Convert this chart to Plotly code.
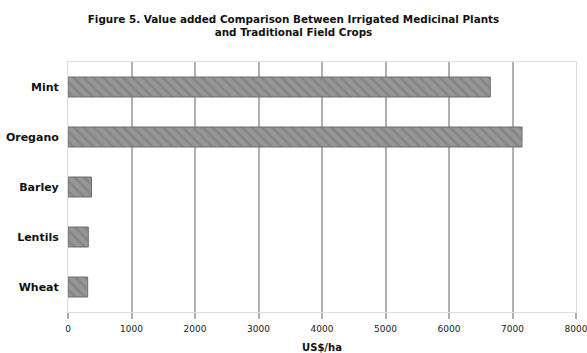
import plotly.graph_objects as go

# Value added per hectare (US$/ha)
crops = ["Mint", "Oregano", "Barley", "Lentils", "Wheat"]
value_added = [6650, 7150, 370, 320, 310]
x_ticks = [0, 1000, 2000, 3000, 4000, 5000, 6000, 7000, 8000]

FONT = "DejaVu Sans, Verdana, sans-serif"

fig = go.Figure(
    go.Bar(
        y=crops,
        x=value_added,
        orientation="h",
        marker=dict(
            color="#8c8c8c",
            line=dict(color="#6e6e6e", width=1),
            pattern=dict(shape="\\", fgcolor="#767676", bgcolor="#979797",
                         size=7, solidity=0.4),
        ),
        width=0.4,
    )
)

fig.update_layout(
    width=587,
    height=353,
    margin=dict(l=68, r=11, t=62, b=41),
    paper_bgcolor="white",
    plot_bgcolor="white",
    font=dict(family=FONT, color="#111"),
    title=dict(
        text="<b>Figure 5. Value added Comparison Between Irrigated Medicinal Plants<br>"
             "and Traditional Field Crops</b>",
        x=0.5, xanchor="center", y=0.935, yanchor="top",
        font=dict(size=10.4, color="#111", family=FONT),
    ),
    showlegend=False,
    bargap=0.6,
)

fig.update_xaxes(
    range=[0, 8000],
    tickvals=x_ticks,
    ticktext=[str(v) for v in x_ticks],
    tickfont=dict(size=9, color="#222", family=FONT),
    showgrid=True,
    gridcolor="#b0b0b0",
    gridwidth=1.5,
    zeroline=False,
    ticks="outside",
    ticklen=6,
    tickcolor="#b0b0b0",
    tickwidth=1.5,
    ticklabelstandoff=2,
    ticklabeloverflow="allow",
    showline=True,
    linecolor="#dedede",
    mirror=True,
    automargin=False,
    title=dict(text="<b>US$/ha</b>", font=dict(size=10, color="#111", family=FONT),
               standoff=12),
)

fig.update_yaxes(
    categoryorder="array",
    categoryarray=crops[::-1],
    tickfont=dict(size=11, color="#111", family=FONT),
    ticklabelstandoff=6,
    tickprefix="<b>",
    ticksuffix="</b>",
    showgrid=False,
    zeroline=False,
    showline=True,
    linecolor="#dedede",
    mirror=True,
    automargin=False,
)

fig.write_html("out.html")
